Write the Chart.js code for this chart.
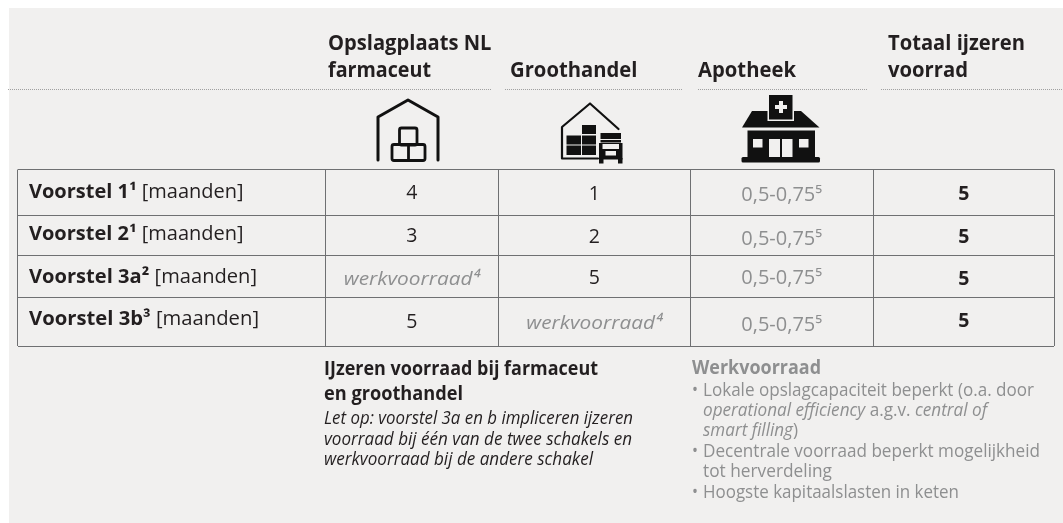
<!DOCTYPE html>
<html>
<head>
<meta charset="utf-8">
<title>Voorstellen ijzeren voorraad</title>
<script src="https://cdn.jsdelivr.net/npm/chart.js@4"></script>
<style>
  html, body { margin: 0; padding: 0; background: #fff; }
  canvas { display: block; }
</style>
</head>
<body>
<canvas id="chart" width="1063" height="523"></canvas>
<script>
// table content
const categories = ['Opslagplaats NL farmaceut', 'Groothandel', 'Apotheek', 'Totaal ijzeren voorrad'];
const proposals = ['Voorstel 1¹', 'Voorstel 2¹', 'Voorstel 3a²', 'Voorstel 3b³'];
const unit = ' [maanden]';
const opslagplaats = ['4', '3', 'werkvoorraad⁴', '5'];
const groothandel = ['1', '2', '5', 'werkvoorraad⁴'];
const apotheek = ['0,5-0,75⁵', '0,5-0,75⁵', '0,5-0,75⁵', '0,5-0,75⁵'];
const totaal = ['5', '5', '5', '5'];
const seriesValues = [opslagplaats, groothandel, apotheek, totaal];

// table geometry, used as the scale units
const columnEdges = [17.5, 325, 498.5, 690, 873.5, 1054];
const rowEdges = [169.5, 215, 255.5, 297, 346];
const labelShift = [-1, -2.5, -0.5, -3.5];
const valueShift = [
  [0, 0.5, 2, 0.5],
  [0, 0.5, 3, 0.5],
  [1.5, 0.5, 0.5, 1.5],
  [-1, 0.5, 2, -1.5]
];

const DARK = '#231f20', GREY = '#8e8f90', LINE = '#6f7072';
const FAMILY = '"Open Sans", "Noto Sans", sans-serif';
const bold = s => `bold ${s}px ${FAMILY}`;
const plain = s => `${s}px ${FAMILY}`;
const italic = s => `italic ${s}px ${FAMILY}`;

// every text line: runs of [text, font, colour], left x, baseline, width in the picture
const H = bold(21), B = bold(19), N = plain(18), I = italic(18);
const textLines = [
  [[['Opslagplaats NL', H, DARK]], 328, 50, 163.5],
  [[['farmaceut', H, DARK]], 328, 77, 103],
  [[['Groothandel', H, DARK]], 510, 77, 127.5],
  [[['Apotheek', H, DARK]], 698, 77, 98],
  [[['Totaal ijzeren', H, DARK]], 888, 50, 137],
  [[['voorrad', H, DARK]], 888, 77, 80],
  [[['IJzeren voorraad bij farmaceut', B, DARK]], 324, 375, 274],
  [[['en groothandel', B, DARK]], 324, 400, 139],
  [[['Let op: voorstel 3a en b impliceren ijzeren', I, DARK]], 324, 424, 309],
  [[['voorraad bij één van de twee schakels en', I, DARK]], 324, 445, 308],
  [[['werkvoorraad bij de andere schakel', I, DARK]], 324, 465, 269],
  [[['Werkvoorraad', B, GREY]], 692, 374, 129],
  [[['•', N, GREY]], 692, 396, 6],
  [[['Lokale opslagcapaciteit beperkt (o.a. door', N, GREY]], 703, 396, 331],
  [[['operational efficiency', I, GREY], [' a.g.v. ', N, GREY], ['central of', I, GREY]], 703, 416, 284],
  [[['smart filling', I, GREY], [')', N, GREY]], 703, 436, 95],
  [[['•', N, GREY]], 692, 457, 6],
  [[['Decentrale voorraad beperkt mogelijkheid', N, GREY]], 703, 457, 337],
  [[['tot herverdeling', N, GREY]], 703, 477, 129],
  [[['•', N, GREY]], 692, 498, 6],
  [[['Hoogste kapitaalslasten in keten', N, GREY]], 703, 498, 256]
];
const dottedRules = [[8, 492], [505, 682], [698, 867], [881, 1063]];

function runsWidth(ctx, runs) {
  return runs.reduce((sum, r) => { ctx.font = r[1]; return sum + ctx.measureText(r[0]).width; }, 0);
}

function drawRuns(ctx, runs, x, y, width) {
  const natural = runsWidth(ctx, runs);
  const sx = width ? width / natural : 1;
  ctx.save();
  ctx.translate(x, y);
  ctx.scale(sx, 1);
  ctx.textAlign = 'left';
  ctx.textBaseline = 'alphabetic';
  let cx = 0;
  runs.forEach(r => {
    ctx.font = r[1];
    ctx.fillStyle = r[2];
    ctx.fillText(r[0], cx, 0);
    cx += ctx.measureText(r[0]).width;
  });
  ctx.restore();
}

function stroked(ctx, width, fn) {
  ctx.save();
  ctx.strokeStyle = '#111';
  ctx.lineWidth = width;
  ctx.lineCap = 'round';
  ctx.lineJoin = 'round';
  ctx.beginPath();
  fn();
  ctx.stroke();
  ctx.restore();
}

function drawWarehouse(ctx) {
  stroked(ctx, 3, () => {
    ctx.moveTo(378, 160); ctx.lineTo(378, 117); ctx.lineTo(408, 100); ctx.lineTo(438, 117); ctx.lineTo(438, 160);
  });
  stroked(ctx, 2.8, () => {
    ctx.roundRect(399.5, 128, 17.5, 17, 2);
    ctx.roundRect(392, 144.5, 33, 16, 2);
    ctx.moveTo(408.5, 145); ctx.lineTo(408.5, 160);
  });
}

function drawDepot(ctx) {
  stroked(ctx, 2.2, () => {
    ctx.moveTo(598, 158.5); ctx.lineTo(562, 158.5); ctx.lineTo(562, 127); ctx.lineTo(590, 103.5); ctx.lineTo(618.5, 129);
  });
  ctx.fillStyle = '#111';
  [[582, 125, 14, 9], [566.5, 135.5, 14.5, 9], [582, 135.5, 14, 9], [566.5, 145.5, 14.5, 9.5], [582, 145.5, 14, 9.5]]
    .forEach(b => ctx.fillRect(b[0], b[1], b[2], b[3]));
  ctx.fillRect(600.5, 133, 20.5, 6);
  ctx.fillRect(600.5, 140, 20.5, 2.5);
  ctx.fillRect(599, 143, 23.5, 16.5);
  ctx.fillRect(599, 158, 4.5, 5.5);
  ctx.fillRect(618, 158, 4.5, 5.5);
  ctx.fillStyle = '#f1f0ef';
  ctx.fillRect(602.5, 144, 16.5, 5);
  ctx.fillRect(605.5, 151, 10.5, 4.5);
}

function drawPharmacy(ctx) {
  ctx.fillStyle = '#111';
  ctx.beginPath();
  ctx.moveTo(752, 111); ctx.lineTo(801, 111); ctx.lineTo(819.5, 127.5); ctx.lineTo(742, 127.5);
  ctx.closePath();
  ctx.fill();
  ctx.fillStyle = '#f1f0ef';
  ctx.fillRect(767.5, 108, 26.5, 13);
  ctx.fillStyle = '#111';
  ctx.fillRect(769, 95, 23.5, 24.5);
  ctx.fillRect(747.5, 130.5, 67.5, 27);
  ctx.beginPath();
  ctx.roundRect(741.5, 157, 78.5, 5.5, 1.5);
  ctx.fill();
  ctx.fillStyle = '#f1f0ef';
  ctx.fillRect(779, 101, 4, 12);
  ctx.fillRect(775, 105, 12, 4);
  ctx.fillRect(753, 139, 9.5, 8.5);
  ctx.fillRect(799, 139, 9.5, 8.5);
  ctx.fillRect(769, 139, 11, 18);
  ctx.fillRect(782, 139, 10.5, 18);
}

const tablePlugin = {
  id: 'tablePlugin',
  beforeDraw(chart) {
    const ctx = chart.ctx;
    ctx.save();
    ctx.fillStyle = '#f1f0ef';
    ctx.fillRect(9, 8, 1054, 515);
    ctx.restore();
  },
  afterDatasetsDraw(chart) {
    const ctx = chart.ctx;
    ctx.save();
    ctx.strokeStyle = '#a0a0a0';
    ctx.lineWidth = 1;
    ctx.setLineDash([1, 1]);
    dottedRules.forEach(d => {
      ctx.beginPath();
      ctx.moveTo(d[0], 89.5);
      ctx.lineTo(d[1], 89.5);
      ctx.stroke();
    });
    ctx.restore();

    textLines.forEach(l => drawRuns(ctx, l[0], l[1], l[2], l[3]));
    drawWarehouse(ctx);
    drawDepot(ctx);
    drawPharmacy(ctx);

    // row labels sit on the first dataset, value cells on the others
    chart.getDatasetMeta(0).data.forEach((pt, i) => {
      const runs = [[proposals[i], bold(19.5), DARK], [unit, plain(19.5), DARK]];
      const w = i < 2 ? 214.5 : i === 2 ? 228 : 230;
      drawRuns(ctx, runs, pt.x, pt.y + 7 + labelShift[i], w);
    });
    seriesValues.forEach((values, c) => {
      chart.getDatasetMeta(c + 1).data.forEach((pt, i) => {
        const v = values[i];
        const isText = v.startsWith('werk');
        const font = c === 3 ? bold(19.5) : isText ? italic(19) : plain(19.5);
        const colour = (isText || c === 2) ? GREY : DARK;
        const runs = [[v, font, colour]];
        const w = isText ? 136 : c === 2 ? 81 : runsWidth(ctx, runs);
        drawRuns(ctx, runs, pt.x - w / 2, pt.y + 7 + valueShift[i][c], w);
      });
    });
  }
};

const mid = (edges, i) => (edges[i] + edges[i + 1]) / 2;
const labelPoints = proposals.map((p, i) => ({ x: 29, y: mid(rowEdges, i) }));
const cellDatasets = seriesValues.map((values, c) => ({
  label: categories[c],
  data: values.map((v, i) => ({ x: mid(columnEdges, c + 1), y: mid(rowEdges, i) })),
  pointRadius: 0
}));

new Chart(document.getElementById('chart'), {
  type: 'scatter',
  data: {
    datasets: [{ label: 'Voorstel', data: labelPoints, pointRadius: 0 }, ...cellDatasets]
  },
  plugins: [tablePlugin],
  options: {
    responsive: false,
    animation: false,
    events: [],
    layout: { padding: { left: 17.5, right: 9, top: 169.5, bottom: 177 } },
    plugins: { legend: { display: false }, tooltip: { enabled: false } },
    scales: {
      x: {
        type: 'linear',
        min: columnEdges[0],
        max: columnEdges[columnEdges.length - 1],
        afterBuildTicks: s => { s.ticks = columnEdges.map(value => ({ value })); },
        ticks: { display: false },
        border: { display: false },
        grid: { color: LINE, lineWidth: 1, drawTicks: false }
      },
      y: {
        type: 'linear',
        reverse: true,
        min: rowEdges[0],
        max: rowEdges[rowEdges.length - 1],
        afterBuildTicks: s => { s.ticks = rowEdges.map(value => ({ value })); },
        ticks: { display: false },
        border: { display: false },
        grid: { color: LINE, lineWidth: 1, drawTicks: false }
      }
    }
  }
});
</script>
</body>
</html>
